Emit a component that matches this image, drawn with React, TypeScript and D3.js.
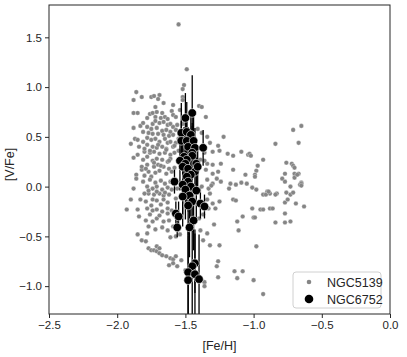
import React, { useEffect, useRef } from 'react';
import * as d3 from 'd3';

// NGC5139 (omega Cen) stars: [Fe/H], [V/Fe]
const ngc5139FeH = [
  -1.55, -1.49, -1.51, -1.52, -1.52, -1.52,
  -1.86, -1.88, -1.82, -1.75, -1.73, -1.69, -1.70,
  -1.88, -1.85, -1.78, -1.76, -1.74, -1.71, -1.67, -1.72, -1.68, -1.65, -1.60, -1.59, -1.57, -1.54, -1.40, -1.38, -1.35, -1.63,
  -1.88, -1.83, -1.78, -1.74, -1.72, -1.69, -1.66, -1.63, -1.61, -1.59, -1.56, -1.75, -1.71, -1.67, -1.64, -1.61, -1.57,
  -1.81, -1.77, -1.74, -1.70, -1.66, -1.62, -1.59, -1.38, -1.34, -1.41,
  -1.87, -1.85, -1.81, -1.78, -1.75, -1.72, -1.69, -1.65, -1.63, -1.61, -1.57, -1.78, -1.74, -1.71, -1.67, -1.64, -1.59,
  -1.80, -1.76, -1.73, -1.69, -1.65, -1.61, -1.58, -1.85, -1.78, -1.32, -1.26, -1.22, -1.36, -1.30, -1.25, -1.09,
  -0.84, -0.71, -0.65, -0.67, -1.38,
  -1.88, -1.81, -1.74, -1.71, -1.67, -1.63, -1.61, -1.78, -1.73, -1.70, -1.66, -1.62, -1.82, -1.77, -1.72, -1.69,
  -1.64, -1.60, -1.86, -1.80, -1.75, -1.39, -1.34, -1.30, -1.24, -1.19, -1.15, -1.04, -1.03, -0.93, -0.97, -0.98,
  -0.76, -0.72, -0.71, -0.70, -0.70, -0.67, -0.77, -1.35, -1.30, -1.26, -1.15, -1.06, -1.02, -0.99, -0.99,
  -1.86, -1.81, -1.76, -1.72, -1.68, -1.65, -1.61, -1.78, -1.74, -1.71, -1.67, -1.63, -1.60, -1.88, -1.77, -1.73,
  -1.69, -1.66, -1.62, -1.34, -1.30, -1.24, -1.17, -1.13, -1.09, -1.05, -1.01, -0.98, -1.18, -1.38, -0.90, -0.88,
  -0.93, -0.83, -0.76, -0.73, -0.71, -0.66, -0.65, -0.73, -1.32, -0.79, -0.77, -0.70, -0.68, -0.65, -0.65, -0.91,
  -0.89, -0.84,
  -1.90, -1.83, -1.79, -1.74, -1.71, -1.66, -1.63, -1.93, -1.78, -1.74, -1.71, -1.67, -1.63, -1.60, -1.85, -1.34,
  -1.30, -1.25, -1.15, -1.13, -1.01, -0.95, -0.88, -0.77, -0.69, -0.63, -1.33, -1.28, -0.75, -0.93, -0.86,
  -1.79, -1.74, -1.71, -1.66, -1.62, -1.77, -1.72, -1.67, -1.63, -1.59, -1.85, -1.78, -1.40, -1.39, -1.34, -1.12,
  -1.08, -1.00, -0.84, -0.77, -0.73, -1.11, -0.77, -0.99,
  -1.82, -1.79, -1.61, -1.57, -1.77, -1.75, -1.73, -1.71, -1.69, -1.67, -1.64, -1.61, -1.59, -1.57, -1.62, -1.59,
  -1.56, -1.53, -1.37, -1.32, -1.25, -0.98, -1.26, -1.27, -1.14, -1.08, -1.26, -1.12, -1.00, -0.93, -1.36, -1.36,
  -1.71, -1.69, -1.50,
  -1.84, -1.80, -1.76, -1.70, -1.64, -1.58, -1.55, -1.82, -1.79, -1.73, -1.68, -1.62, -1.58, -1.77, -1.71, -1.65,
  -1.56, -1.84, -1.76, -1.69, -1.63, -1.57, -1.81, -1.72, -1.66, -1.59, -1.90, -1.80, -1.75, -1.68, -1.55, -1.52,
  -1.57, -1.54, -1.36, -1.33, -1.29, -1.31, -1.37, -1.27,
];
const ngc5139VFe = [
  1.63, 1.18, 1.02, 0.98, 0.90, 0.87,
  0.95, 0.87, 0.90, 0.90, 0.91, 0.92, 0.88,
  0.74, 0.74, 0.69, 0.73, 0.74, 0.75, 0.74, 0.70, 0.69, 0.70, 0.76, 0.72, 0.70, 0.77, 0.81, 0.80, 0.70, 0.68,
  0.59, 0.61, 0.60, 0.63, 0.66, 0.64, 0.65, 0.62, 0.63, 0.60, 0.62, 0.58, 0.59, 0.56, 0.57, 0.55, 0.57,
  0.55, 0.54, 0.53, 0.53, 0.52, 0.51, 0.52, 0.54, 0.50, 0.58,
  0.48, 0.47, 0.45, 0.49, 0.47, 0.48, 0.45, 0.48, 0.44, 0.45, 0.44, 0.42, 0.40, 0.39, 0.40, 0.38, 0.40,
  0.35, 0.34, 0.35, 0.33, 0.34, 0.32, 0.34, 0.32, 0.30, 0.44, 0.41, 0.50, 0.34, 0.35, 0.36, 0.35,
  0.43, 0.57, 0.61, 0.44, 0.40,
  0.29, 0.27, 0.26, 0.28, 0.27, 0.25, 0.28, 0.22, 0.20, 0.22, 0.20, 0.18, 0.17, 0.15, 0.14, 0.16,
  0.13, 0.15, 0.12, 0.11, 0.10, 0.27, 0.23, 0.22, 0.23, 0.33, 0.31, 0.32, 0.33, 0.27, 0.21, 0.16,
  0.24, 0.23, 0.21, 0.19, 0.13, 0.13, 0.13, 0.17, 0.13, 0.15, 0.17, 0.12, 0.31, 0.12, 0.10,
  0.08, 0.05, 0.07, 0.04, 0.06, 0.03, 0.05, 0.00, -0.02, 0.00, -0.03, -0.01, -0.03, -0.02, -0.07, -0.08,
  -0.07, -0.09, -0.08, 0.07, 0.03, 0.05, 0.03, 0.02, 0.04, 0.03, -0.01, -0.03, -0.02, 0.00, -0.05, -0.07,
  -0.08, -0.07, -0.06, -0.08, -0.06, 0.02, 0.04, 0.00, -0.07, 0.08, 0.05, 0.09, 0.12, 0.03, 0.01, -0.08,
  -0.05, -0.08,
  -0.13, -0.13, -0.15, -0.13, -0.14, -0.13, -0.16, -0.23, -0.22, -0.24, -0.23, -0.25, -0.22, -0.24, -0.23, -0.13,
  -0.17, -0.15, -0.13, -0.14, -0.22, -0.23, -0.22, -0.16, -0.17, -0.20, -0.22, -0.22, -0.13, -0.23, -0.22,
  -0.34, -0.35, -0.32, -0.35, -0.34, -0.40, -0.43, -0.41, -0.44, -0.40, -0.48, -0.47, -0.32, -0.44, -0.47, -0.35,
  -0.30, -0.31, -0.36, -0.36, -0.35, -0.44, -0.27, -0.31,
  -0.54, -0.55, -0.51, -0.50, -0.62, -0.64, -0.64, -0.65, -0.67, -0.69, -0.70, -0.72, -0.73, -0.70, -0.79, -0.77,
  -0.80, -0.74, -0.54, -0.59, -0.59, -0.60, -0.75, -0.80, -0.85, -0.85, -0.91, -0.92, -0.94, -1.08, -0.96, -1.00,
  -0.60, -0.62, -0.84,
  0.40, 0.38, 0.36, 0.42, 0.37, 0.41, 0.48, 0.20, 0.18, 0.24, 0.21, 0.26, 0.19, -0.04, -0.05, -0.06,
  -0.02, -0.30, -0.28, -0.29, -0.27, -0.30, 0.64, 0.80, 0.84, 0.82, 0.43, -0.07, -0.19, -0.18, 0.36, 0.63,
  -0.12, -0.48, 0.26, -0.02, -0.38, 0.01, -0.28, 0.08,
];

// NGC6752 stars with [V/Fe] uncertainties
const ngc6752FeH = [
  -1.50, -1.45, -1.53, -1.49, -1.46, -1.53, -1.49, -1.44, -1.48, -1.43, -1.37, -1.45, -1.45, -1.51, -1.49, -1.54,
  -1.42, -1.50, -1.52, -1.48, -1.43, -1.46, -1.41, -1.49, -1.58, -1.48, -1.52, -1.46, -1.50, -1.42, -1.47, -1.52,
  -1.45, -1.39, -1.48, -1.36, -1.57, -1.55, -1.44, -1.56, -1.47, -1.43, -1.45, -1.48, -1.43, -1.48, -1.40,
];
const ngc6752VFe = [
  0.69, 0.74, 0.54, 0.55, 0.52, 0.46, 0.46, 0.46, 0.40, 0.39, 0.39, 0.34, 0.31, 0.30, 0.27, 0.26,
  0.23, 0.23, 0.20, 0.18, 0.15, 0.12, 0.20, 0.10, 0.05, 0.05, 0.02, 0.00, -0.03, -0.04, -0.09, -0.10,
  -0.15, -0.17, -0.19, -0.20, -0.27, -0.30, -0.34, -0.41, -0.41, -0.77, -0.80, -0.86, -0.88, -0.94, -0.93,
];
const ngc6752Err = [
  0.25, 0.38, 0.30, 0.30, 0.25, 0.20, 0.22, 0.25, 0.20, 0.20, 0.18, 0.30, 0.30, 0.30, 0.30, 0.30,
  0.25, 0.30, 0.30, 0.30, 0.20, 0.30, 0.20, 0.30, 0.12, 0.30, 0.30, 0.30, 0.30, 0.30, 0.30, 0.30,
  0.30, 0.15, 0.30, 0.12, 0.12, 0.15, 0.30, 0.10, 0.30, 0.30, 0.50, 0.45, 0.45, 0.45, 0.45,
];

const xTicks = [-2.5, -2.0, -1.5, -1.0, -0.5, 0.0];
const yTicks = [-1.0, -0.5, 0.0, 0.5, 1.0, 1.5];
const seriesNames = ['NGC5139', 'NGC6752'];

const W = 407;
const H = 357;
const margin = { top: 5, right: 17, bottom: 43, left: 49 };
const FONT = '"Liberation Sans", Arial, sans-serif';
const INK = '#262626';

const App = () => {
  const ref = useRef<SVGSVGElement>(null);

  useEffect(() => {
    const svg = d3.select(ref.current);
    svg.selectAll('*').remove();

    const width = W - margin.left - margin.right;
    const height = H - margin.top - margin.bottom;

    const x = d3.scaleLinear().domain([-2.5, 0.0]).range([0, width]);
    const y = d3.scaleLinear().domain([-1.28, 1.825]).range([height, 0]);

    const g = svg.append('g').attr('transform', `translate(${margin.left},${margin.top})`);

    g.append('clipPath').attr('id', 'plotclip')
      .append('rect').attr('width', width).attr('height', height);

    const plot = g.append('g').attr('clip-path', 'url(#plotclip)');

    const grey = d3.zip(ngc5139FeH, ngc5139VFe);
    plot.selectAll('.omega')
      .data(grey)
      .enter()
      .append('circle')
      .attr('class', 'omega')
      .attr('cx', d => x(d[0]))
      .attr('cy', d => y(d[1]))
      .attr('r', 2.3)
      .attr('fill', '#858585')
      .attr('stroke', 'white')
      .attr('stroke-width', 0.3);

    const black = ngc6752FeH.map((f, i) => ({ f, v: ngc6752VFe[i], e: ngc6752Err[i] }));
    plot.selectAll('.err')
      .data(black)
      .enter()
      .append('line')
      .attr('class', 'err')
      .attr('x1', d => x(d.f))
      .attr('x2', d => x(d.f))
      .attr('y1', d => y(d.v - d.e))
      .attr('y2', d => y(d.v + d.e))
      .attr('stroke', 'black')
      .attr('stroke-width', 1.3);

    plot.selectAll('.ngc6752')
      .data(black)
      .enter()
      .append('circle')
      .attr('class', 'ngc6752')
      .attr('cx', d => x(d.f))
      .attr('cy', d => y(d.v))
      .attr('r', 4.3)
      .attr('fill', 'black')
      .attr('stroke', 'white')
      .attr('stroke-width', 0.6);

    // frame
    g.append('rect')
      .attr('width', width)
      .attr('height', height)
      .attr('fill', 'none')
      .attr('stroke', INK)
      .attr('stroke-width', 1);

    const fmt = d3.format('.1f');
    const xAxis = g.append('g')
      .attr('transform', `translate(0,${height})`)
      .call(d3.axisBottom(x).tickValues(xTicks).tickFormat(d => fmt(d as number)).tickSize(4).tickPadding(3));
    const yAxis = g.append('g')
      .call(d3.axisLeft(y).tickValues(yTicks).tickFormat(d => fmt(d as number)).tickSize(4).tickPadding(3));

    [xAxis, yAxis].forEach(a => {
      a.select('.domain').remove();
      a.selectAll('line').attr('stroke', INK);
      a.selectAll('text').attr('fill', INK).attr('font-size', 11.5).attr('font-family', FONT);
    });

    g.append('text')
      .attr('x', width / 2)
      .attr('y', height + 36)
      .attr('text-anchor', 'middle')
      .attr('font-size', 12.5)
      .attr('font-family', FONT)
      .attr('fill', INK)
      .text('[Fe/H]');

    g.append('text')
      .attr('transform', `translate(${-35},${height / 2 + 5}) rotate(-90)`)
      .attr('text-anchor', 'middle')
      .attr('font-size', 12.5)
      .attr('font-family', FONT)
      .attr('fill', INK)
      .text('[V/Fe]');

    // legend
    const lg = g.append('g').attr('transform', `translate(${width - 97},${height - 42})`);
    lg.append('rect')
      .attr('width', 88)
      .attr('height', 36)
      .attr('rx', 3)
      .attr('fill', 'white')
      .attr('fill-opacity', 0.8)
      .attr('stroke', '#d0d0d0')
      .attr('stroke-width', 1);
    seriesNames.forEach((name, i) => {
      const yy = 10 + i * 17;
      lg.append('circle')
        .attr('cx', 16)
        .attr('cy', yy)
        .attr('r', i === 0 ? 2.3 : 4.3)
        .attr('fill', i === 0 ? '#858585' : 'black');
      lg.append('text')
        .attr('x', 34)
        .attr('y', yy)
        .attr('dy', '0.36em')
        .attr('font-size', 12.5)
        .attr('font-family', FONT)
        .attr('fill', INK)
        .text(name);
    });
  }, []);

  return (
    <svg
      ref={ref}
      width={W}
      height={H}
      style={{ position: 'absolute', left: 0, top: 0, background: 'white' }}
    />
  );
};

export default App;
